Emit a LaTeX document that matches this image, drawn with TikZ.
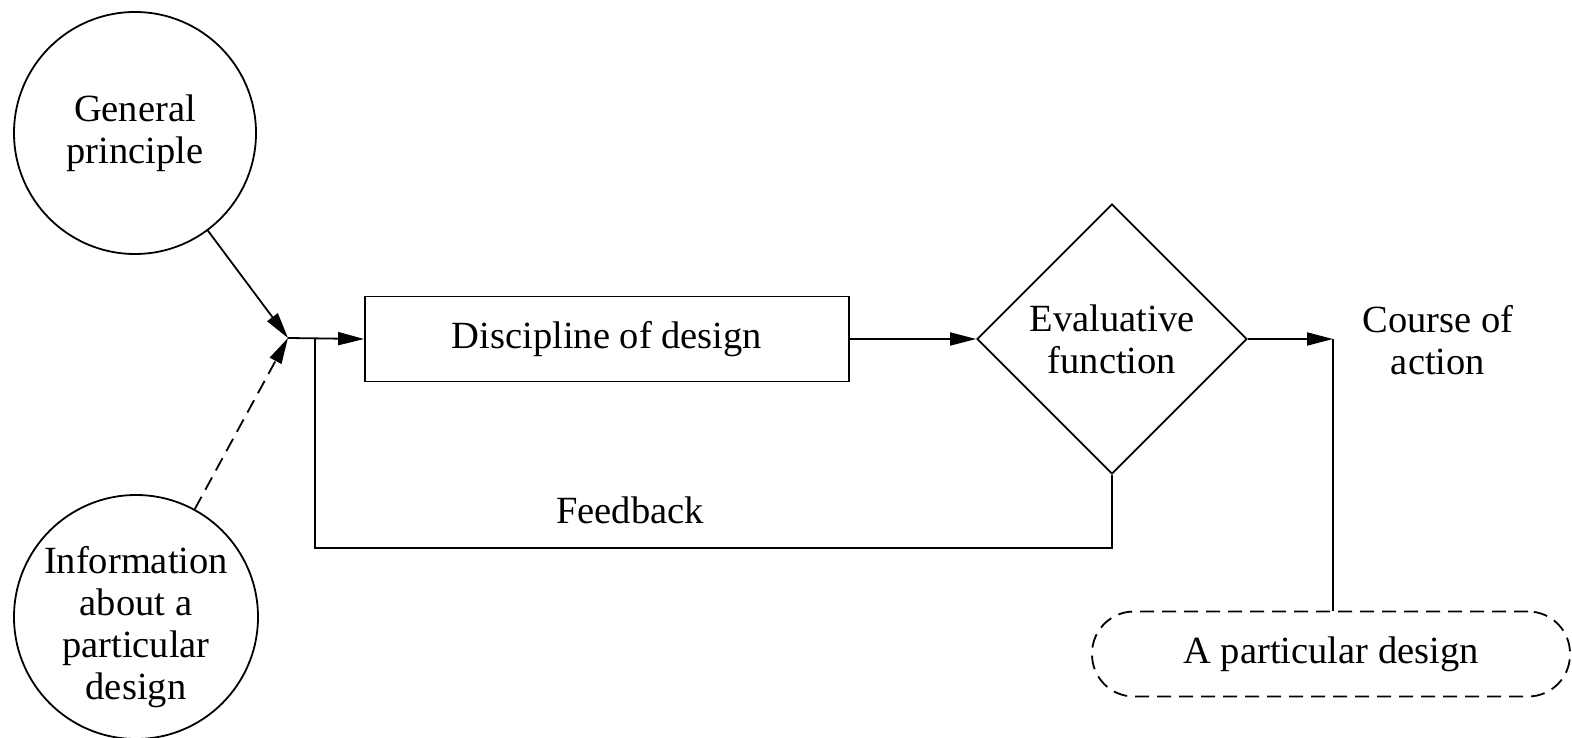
\documentclass[tikz,border=0pt]{standalone}
\usepackage{fontspec}
\setmainfont{Liberation Serif}
\usetikzlibrary{arrows.meta,shapes.geometric}
\begin{document}
\begin{tikzpicture}[x=1pt,y=-1pt,line width=1.8pt,
  font=\fontsize{38.5}{42}\selectfont,
  tip/.style={-{Triangle[length=26pt,width=13pt]}},
  circ/.style={draw,circle,minimum size=242pt,inner sep=0pt,align=center},
  dashline/.style={dash pattern=on 14pt off 8pt},
  txt/.style={align=center,inner sep=0pt}]
\useasboundingbox (0,0) rectangle (1572,738);
\node[circ] (gp) at (135,133) {General\\principle};
\node[circ,minimum size=244pt] (info) at (136,617) {};
\node[txt] (infotext) at (136,627) {Information\\about a\\particular\\design};
\coordinate (J) at (288,338);
\coordinate (F) at (315,338);
\node[draw,minimum width=484pt,minimum height=85pt,inner sep=0pt] (box) at (607,339) {Discipline of design};
\node[draw,diamond,minimum width=270pt,minimum height=270pt,inner sep=0pt,align=center] (ev) at (1112,339) {Evaluative\\function};
\coordinate (C) at (1333,339);
\node[txt] (ca) at (1438,340) {Course of\\action};
\node[draw,dashline,rounded corners=42pt,minimum width=478pt,minimum height=85pt] (pd) at (1331,654) {A particular design};
\node[txt] (fb) at (630,510) {Feedback};
\draw[tip] (gp) -- (J);
\draw[tip,dashline] (info) -- (J);
\draw[tip] (J) -- (box.west);
\draw[tip] (box.east) -- (ev.west);
\draw[tip] (ev.east) -- (C);
\draw (C) -- (C |- pd.north);
\draw (ev.south) -- (ev.south |- 0,548) -| (F);
\end{tikzpicture}
\end{document}
